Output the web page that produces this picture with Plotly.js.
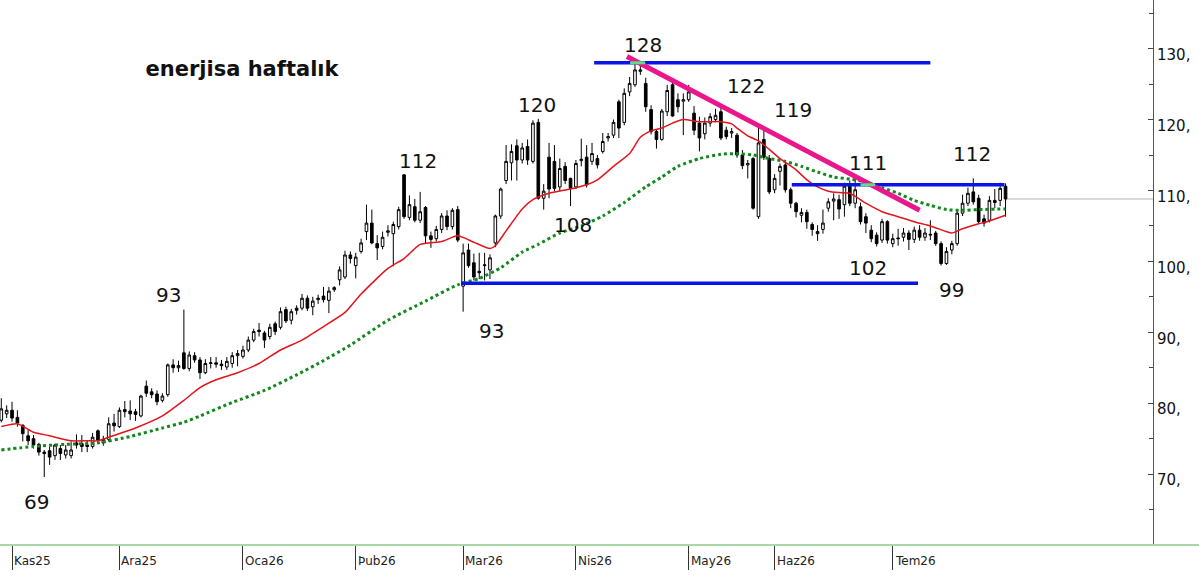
<!DOCTYPE html>
<html>
<head>
<meta charset="utf-8">
<script src="https://cdn.plot.ly/plotly-3.0.1.min.js"></script>
<style>
  html, body { margin: 0; padding: 0; background: #fff; }
  #chart { width: 1199px; height: 588px; }
</style>
</head>
<body>
<div id="chart"></div>
<script>
// ---- daily candles, index 0 = 30 Oct 2025 ... 187 = 31 Jul 2026 ----
const openP = [
  77.6,78.5,79.0,78.0,76.9,75.4,75.0,74.2,73.1,73.3,
  72.6,73.6,72.7,72.6,74.4,74.3,74.1,73.9,76.1,74.4,
  74.9,77.2,76.7,79.1,78.9,78.8,78.2,82.4,81.6,81.3,
  80.4,81.2,85.4,85.0,87.1,84.9,86.7,86.1,84.3,85.6,
  85.7,85.5,85.1,85.6,86.7,86.6,87.5,88.9,90.3,89.9,
  89.4,91.2,90.7,93.2,91.7,93.4,93.4,94.8,93.6,94.6,
  95.1,94.5,96.0,97.4,97.8,100.9,99.4,101.4,104.2,105.4,
  102.5,102.1,104.1,103.9,104.9,112.2,106.2,107.7,105.8,107.6,
  103.6,103.2,104.5,106.4,104.9,107.3,96.5,101.6,99.8,98.6,
  99.4,98.8,102.6,106.4,111.4,113.9,116.3,114.3,116.2,114.1,
  119.6,108.9,114.7,114.1,110.5,113.4,111.7,110.5,114.2,114.7,
  114.1,114.5,115.5,117.4,117.8,122.5,119.6,123.9,124.9,126.8,
  125.1,121.4,118.3,117.2,121.1,124.9,122.8,122.6,122.8,120.9,
  119.5,118.0,119.5,120.0,121.1,118.5,118.1,117.8,115.0,113.6,
  114.5,106.3,117.2,114.5,110.1,112.7,113.6,110.1,108.2,106.5,
  106.9,105.2,104.2,104.5,107.5,108.5,108.7,108.0,110.6,108.2,
  107.7,106.3,104.4,103.7,103.0,105.6,102.5,103.3,103.4,104.0,
  103.1,104.4,103.4,103.7,104.0,102.5,99.7,101.6,102.5,106.8,
  108.2,109.8,108.9,106.0,105.8,108.6,108.6,110.6
];
const highP = [
  80.7,79.7,80.2,79.0,77.0,76.2,75.5,74.4,73.4,73.9,
  74.3,74.1,74.1,74.6,75.6,75.5,74.7,75.8,76.3,75.4,
  78.0,78.5,79.4,80.3,80.4,79.2,81.2,83.2,82.1,81.8,
  81.4,85.6,86.2,86.0,93.2,87.3,87.2,86.5,86.2,86.5,
  86.5,86.1,86.5,87.2,87.5,88.1,89.4,90.5,91.3,90.2,
  91.2,91.5,93.5,93.6,93.3,93.8,95.4,95.2,95.0,95.3,
  96.4,96.4,96.5,99.3,101.5,101.4,101.2,103.2,108.0,107.3,
  103.7,104.2,105.1,105.6,107.7,112.3,109.3,108.8,109.8,107.8,
  104.2,105.0,106.8,107.2,107.5,107.8,102.5,102.5,101.1,101.2,
  101.2,101.0,106.6,110.4,116.4,116.5,117.2,116.7,117.2,119.9,
  120.1,110.9,116.7,116.4,114.5,114.0,111.8,114.3,117.3,116.4,
  116.7,115.0,118.1,118.1,120.0,122.8,124.4,126.0,127.9,128.0,
  125.9,122.0,118.6,121.5,124.9,125.6,123.7,123.7,124.9,121.9,
  120.4,120.3,120.9,121.5,122.0,119.0,118.8,118.1,115.7,114.3,
  114.7,119.0,119.0,115.0,112.3,113.8,114.1,110.4,108.4,107.5,
  107.3,105.5,105.1,107.3,108.9,109.6,109.4,111.1,111.4,111.7,
  108.3,106.8,105.1,104.1,106.0,105.8,103.9,104.6,104.7,104.4,
  104.9,105.1,104.7,105.8,104.3,102.8,102.0,102.9,107.2,109.4,
  110.4,111.7,109.4,106.6,109.2,110.2,111.1,111.0
];
const lowP = [
  77.3,77.9,77.4,76.7,74.6,74.1,73.6,72.6,69.6,71.3,
  72.0,72.0,72.2,72.2,73.6,73.1,73.1,73.6,74.4,74.0,
  74.6,76.0,76.5,78.0,77.6,77.5,78.0,80.9,80.7,79.7,
  80.1,80.9,84.3,84.4,84.7,84.5,85.7,83.4,84.1,84.9,
  85.0,84.7,84.7,85.0,85.2,86.3,87.2,88.6,89.4,87.8,
  89.0,89.6,90.4,91.3,91.1,92.5,93.1,93.0,92.4,94.0,
  94.2,92.7,95.7,96.6,97.5,99.7,97.6,101.1,103.0,102.4,
  100.2,101.7,103.5,99.3,104.5,106.0,105.8,105.5,105.4,102.5,
  101.9,102.8,104.0,104.4,104.5,102.7,92.9,99.1,97.3,97.5,
  97.3,97.5,102.0,106.0,110.9,111.4,111.4,113.8,113.6,113.8,
  108.7,107.3,108.9,109.9,109.9,110.9,107.8,110.2,113.4,110.4,
  113.6,113.1,115.2,116.9,117.4,117.4,119.2,123.3,124.6,126.3,
  121.1,117.9,115.9,117.0,120.5,120.4,121.0,117.8,122.5,117.8,
  115.5,117.2,119.0,119.6,117.1,117.2,117.4,114.6,113.0,111.7,
  107.3,106.0,114.3,109.5,109.6,110.7,109.7,107.5,106.2,105.5,
  104.6,103.6,102.9,103.9,107.0,105.8,106.0,106.3,107.8,107.5,
  105.2,104.0,102.7,102.1,102.6,102.5,102.0,102.2,102.8,101.6,
  102.6,102.9,102.9,103.0,102.2,99.4,99.5,101.0,102.2,106.4,
  107.8,108.0,105.3,104.9,105.5,107.5,107.8,106.3
];
const closeP = [
  79.2,79.0,77.9,77.2,75.7,74.7,74.1,73.1,72.9,72.4,
  74.1,72.9,73.4,73.4,74.1,73.9,73.9,75.2,74.8,74.9,
  77.1,76.8,79.0,78.8,78.5,78.4,81.0,81.4,81.2,80.2,
  81.0,85.4,85.0,85.3,84.9,86.8,86.1,84.3,85.6,85.7,
  85.5,85.3,85.9,86.7,87.0,87.5,88.9,90.1,90.1,88.9,
  90.7,90.1,92.9,91.6,92.9,93.1,94.8,93.4,94.4,94.8,
  94.6,95.8,96.3,98.8,100.9,100.4,100.6,102.6,105.4,102.6,
  101.9,103.4,104.3,105.2,107.3,106.3,108.0,105.8,107.0,103.6,
  103.1,104.5,106.4,104.9,107.2,103.0,101.2,99.4,97.8,98.4,
  99.5,100.5,106.4,110.2,114.1,115.5,114.3,116.0,114.3,119.5,
  108.9,109.9,110.2,110.3,113.1,111.4,110.3,113.8,114.4,110.8,
  115.2,113.6,116.9,117.6,119.6,118.8,123.7,125.1,127.0,127.0,
  121.8,118.3,117.2,121.2,124.1,120.5,121.8,122.8,123.9,118.5,
  117.4,119.5,120.4,120.6,117.4,117.6,118.3,115.0,113.5,113.8,
  107.5,116.7,114.7,109.8,111.7,113.4,110.1,108.2,107.0,106.9,
  105.6,104.5,103.9,105.4,108.4,108.8,107.4,110.6,108.2,110.1,
  105.6,105.4,103.2,102.5,105.6,103.0,103.2,103.2,104.0,103.1,
  104.4,103.4,104.0,103.8,102.5,99.7,101.4,102.5,106.8,108.2,
  109.6,108.4,105.6,105.4,108.6,108.3,110.3,108.8
];

// moving averages (candle index, value)
const redMaIdx = [0,3,6,9,13,16,18,20,25,30,34,37,40,44,48,52,56,60,64,67,72,75,78,82,85,88,91,92,94,97,99,102,106,109,111,114,117,119,121,123,125,127,130,134,136,137,139,141,143,145,148,150,152,154,156,158,161,164,167,170,173,176,177,179,182,184,187];
const redMaVal = [76.7,77.1,75.9,75.4,74.7,74.7,74.7,75.2,76.5,78.2,80.4,82.2,83.3,84.3,85.6,87.5,88.9,90.8,92.8,95.4,99.0,100.4,102.4,102.8,103.6,102.7,101.8,102.2,104.3,107.4,108.7,109.6,110.2,110.8,111.5,113.4,115.2,117.5,118.4,118.8,119.5,120.0,119.7,119.7,119.4,118.8,117.7,117.0,115.8,114.5,112.9,111.5,110.5,109.9,109.7,109.6,108.2,107.0,106.3,105.6,105.0,104.2,104.0,104.6,105.3,105.7,106.5];
const greenMaIdx = [0,6,12,18,24,30,34,37,43,49,55,60,65,72,79,85,89,93,97,100,104,108,112,116,120,123,126,130,134,137,140,143,146,149,152,155,158,161,164,167,170,173,176,179,182,187];
const greenMaVal = [73.4,73.9,74.2,74.4,75.3,76.5,77.3,78.2,80.1,81.8,84.0,86.0,88.2,91.7,94.4,96.7,97.6,99.1,101.3,102.4,104.0,105.0,106.4,108.3,110.5,111.9,113.4,114.5,115.1,115.2,115.0,114.5,114.1,113.4,112.6,111.9,111.6,111.2,110.4,109.6,108.6,107.9,107.3,107.2,107.3,107.4];

// month ticks
const monthIdx = [2,22,45,66,86,107,128,144,166];
const monthLabels = ['Kas25','Ara25','Oca26','Þub26','Mar26','Nis26','May26','Haz26','Tem26'];

// y-axis ticks
const yTickVals = [70,80,90,100,110,120,130];
const yTickText = ['70,','80,','90,','100,','110,','120,','130,'];
const yMinorVals = [65,75,85,95,105,115,125,135];

// drawn support / resistance levels
const hLevels = [
  {from:110.4, to:173.0, level:128.0},
  {from:85.6,  to:170.7, level:96.9},
  {from:147.2, to:186.8, level:110.8}
];
const trendFrom = [116.5, 128.9];
const trendTo   = [171.0, 107.2];
const crossMarks = [
  {from:117.1, to:119.9, level:128.0},
  {from:160.0, to:162.7, level:110.8}
];

// price callouts
const callText = ['128','122','119','120','112','93','93','108','111','112','102','99','69'];
const callIdx  = [119.5,138.7,147.4,99.8,77.6,31.2,91.2,106.5,161.4,180.8,161.3,176.9,6.5];
const callVal  = [130.5,124.7,121.3,122.1,114.2,95.3,90.2,105.2,113.9,115.1,99.1,96.0,66.1];

const titleText = 'enerjisa haftalık';

// ------------------------------------------------------------------
const idx = openP.map((_, i) => i);
const lastIdx = idx[idx.length - 1];
const lastClose = closeP[closeP.length - 1];
const FONT = 'DejaVu Sans, Verdana, sans-serif';
const X_MAX = 214.46;

const traces = [
  {
    type: 'scatter', mode: 'lines', x: greenMaIdx, y: greenMaVal,
    line: {color: '#0f8a1a', width: 3, dash: 'dot', shape: 'spline', smoothing: 0.6},
    hoverinfo: 'skip', showlegend: false
  },
  {
    type: 'scatter', mode: 'lines', x: redMaIdx, y: redMaVal,
    line: {color: '#e3141b', width: 1.5, shape: 'spline', smoothing: 0.6},
    hoverinfo: 'skip', showlegend: false
  },
  {
    type: 'candlestick', x: idx, open: openP, high: highP, low: lowP, close: closeP,
    increasing: {line: {color: '#000', width: 1}, fillcolor: '#ffffff'},
    decreasing: {line: {color: '#000', width: 1}, fillcolor: '#000000'},
    whiskerwidth: 0, hoverinfo: 'skip', showlegend: false
  }
];

const shapes = [];
hLevels.forEach(h => shapes.push({
  type: 'line', xref: 'x', yref: 'y', x0: h.from, x1: h.to, y0: h.level, y1: h.level,
  line: {color: '#0a14e6', width: 3.5}
}));
shapes.push({
  type: 'line', xref: 'x', yref: 'y', x0: trendFrom[0], y0: trendFrom[1], x1: trendTo[0], y1: trendTo[1],
  line: {color: '#ea168b', width: 5}
});
crossMarks.forEach(c => shapes.push({
  type: 'line', xref: 'x', yref: 'y', x0: c.from, x1: c.to, y0: c.level, y1: c.level,
  line: {color: '#5fdc8e', width: 3}
}));
// current price guide
shapes.push({
  type: 'line', xref: 'x', yref: 'y', x0: lastIdx, x1: X_MAX, y0: lastClose, y1: lastClose,
  line: {color: '#b4b4b4', width: 1}, layer: 'below'
});
// green base line of the time axis
shapes.push({
  type: 'line', xref: 'paper', yref: 'paper', x0: 0, x1: 1.045, y0: 0, y1: 0,
  line: {color: '#a6d9a6', width: 2}
});

const annotations = callText.map((t, k) => ({
  text: t, x: callIdx[k], y: callVal[k], xref: 'x', yref: 'y',
  showarrow: false, font: {family: FONT, size: 20, color: '#111'},
  xanchor: 'center', yanchor: 'middle'
}));
monthLabels.forEach((m, k) => annotations.push({
  text: m, x: monthIdx[k], y: 0, xref: 'x', yref: 'paper',
  showarrow: false, xanchor: 'left', yanchor: 'middle', xshift: 0, yshift: -16,
  font: {family: FONT, size: 12, color: '#222'}
}));

const layout = {
  width: 1199, height: 588,
  margin: {l: 0, r: 46, t: 0, b: 43, pad: 0},
  paper_bgcolor: '#ffffff', plot_bgcolor: '#ffffff',
  showlegend: false,
  title: {
    text: '<b>' + titleText + '</b>', xref: 'container', yref: 'container',
    x: 242 / 1199, y: 1 - 69 / 588, xanchor: 'center', yanchor: 'middle',
    font: {family: FONT, size: 21, color: '#111'}
  },
  xaxis: {
    range: [-0.24, X_MAX], showgrid: false, zeroline: false,
    rangeslider: {visible: false},
    tickmode: 'array', tickvals: monthIdx, showticklabels: false,
    ticks: 'outside', ticklen: 24, tickwidth: 1, tickcolor: '#333',
    showline: false, fixedrange: true
  },
  yaxis: {
    side: 'right', range: [60.0, 136.86], showgrid: false, zeroline: false,
    tickmode: 'array', tickvals: yTickVals, ticktext: yTickText,
    ticks: 'inside', ticklen: 5, tickwidth: 1, tickcolor: '#444',
    ticklabelshift: 6,
    minor: {tickmode: 'array', tickvals: yMinorVals, ticks: 'inside', ticklen: 4, tickcolor: '#444', tickwidth: 1},
    showline: true, linecolor: '#555', linewidth: 1,
    tickfont: {family: FONT, size: 15, color: '#111'},
    fixedrange: true
  },
  shapes: shapes,
  annotations: annotations
};

Plotly.newPlot('chart', traces, layout, {displayModeBar: false, staticPlot: true});
</script>
</body>
</html>
